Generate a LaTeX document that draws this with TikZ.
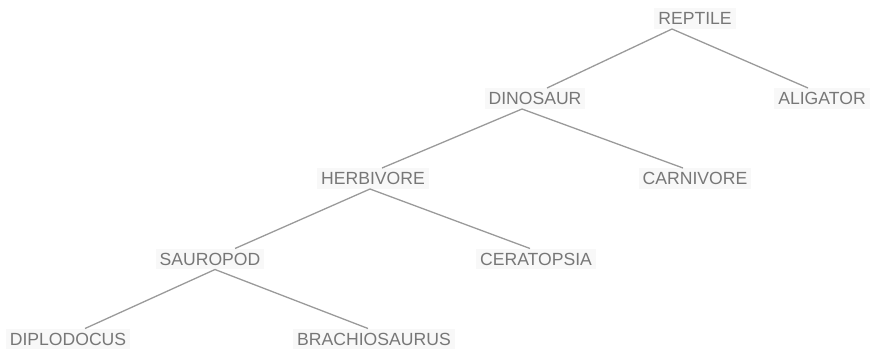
\documentclass[tikz,border=0pt]{standalone}
\usepackage{fontspec}
\setmainfont{Liberation Sans}
\definecolor{txtgray}{HTML}{777777}
\definecolor{linegray}{HTML}{9A9A9A}
\definecolor{halogray}{HTML}{F8F8F8}
\begin{document}
\begin{tikzpicture}[x=1pt,y=-1pt,
  taxon/.style={font=\fontsize{17.6}{18}\selectfont, text=txtgray, fill=halogray,
    text height=12.6pt, text depth=0pt, inner sep=4pt},
  link/.style={draw=linegray, line width=1.3pt}]
  \useasboundingbox (0,0) rectangle (874,348);

  \node[taxon] (reptile) at (695,18.5) {REPTILE};
  \node[taxon] (dinosaur) at (535,98.5) {DINOSAUR};
  \node[taxon] (aligator) at (822,98.5) {ALIGATOR};
  \node[taxon] (herbivore) at (373,178.5) {HERBIVORE};
  \node[taxon] (carnivore) at (695,178.5) {CARNIVORE};
  \node[taxon] (sauropod) at (210,259) {SAUROPOD};
  \node[taxon] (ceratopsia) at (536,259) {CERATOPSIA};
  \node[taxon] (diplodocus) at (68,339) {DIPLODOCUS};
  \node[taxon] (brachiosaurus) at (374,339) {BRACHIOSAURUS};

  \draw[link] ([xshift=-23pt]reptile.south) -- ([xshift=12pt]dinosaur.north);
  \draw[link] ([xshift=-23pt]reptile.south) -- ([xshift=-14pt]aligator.north);
  \draw[link] ([xshift=-13pt]dinosaur.south) -- ([xshift=9pt]herbivore.north);
  \draw[link] ([xshift=-13pt]dinosaur.south) -- ([xshift=-12pt]carnivore.north);
  \draw[link] ([xshift=-3pt]herbivore.south) -- ([xshift=25pt]sauropod.north);
  \draw[link] ([xshift=-3pt]herbivore.south) -- ([xshift=-6pt]ceratopsia.north);
  \draw[link] ([xshift=5pt]sauropod.south) -- ([xshift=17pt]diplodocus.north);
  \draw[link] ([xshift=5pt]sauropod.south) -- ([xshift=-6pt]brachiosaurus.north);
\end{tikzpicture}
\end{document}
